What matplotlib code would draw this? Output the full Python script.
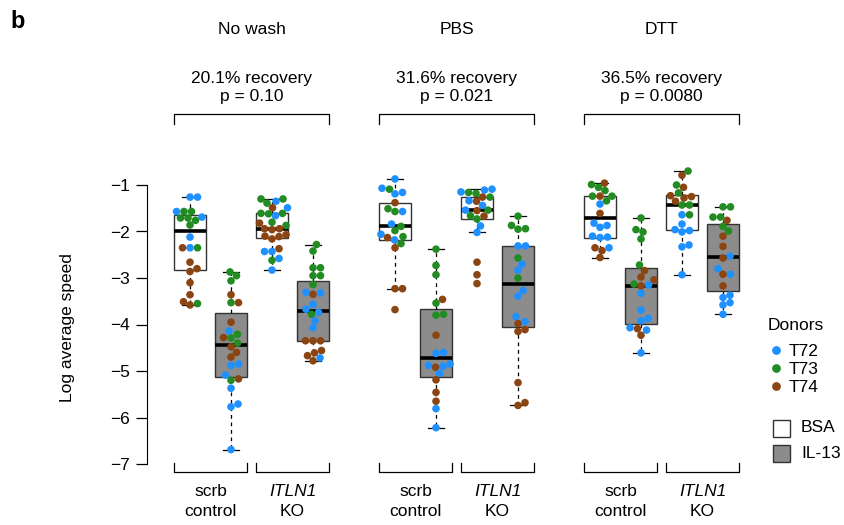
import matplotlib
matplotlib.use('Agg')
import matplotlib.pyplot as plt, numpy
from matplotlib.lines import Line2D
from matplotlib.patches import Rectangle
import matplotlib.transforms as mtrans

plt.rcParams['font.family'] = ['Liberation Sans', 'DejaVu Sans']

# donor codes: 2 = T72, 3 = T73, 4 = T74
nw_scrb_bsa = [-1.26, -1.26, -1.57, -1.57, -1.57, -1.69, -1.71, -1.76, -1.71, -1.86, -2.12,
               -2.35, -2.35, -2.35, -2.66, -2.80, -2.86, -3.10, -3.36, -3.51, -3.58, -3.55]
nw_scrb_bsa_d = [2, 2, 3, 3, 2, 2, 3, 3, 3, 3, 2, 3, 2, 4, 4, 4, 4, 4, 4, 4, 4, 3]
nw_scrb_il13 = [-2.87, -2.95, -3.06, -3.36, -3.53, -3.53, -3.95, -4.14, -4.21, -4.28, -4.29, -4.40,
                -4.48, -4.60, -4.70, -4.85, -4.88, -5.09, -5.17, -5.20, -5.37, -5.71, -5.77, -6.69]
nw_scrb_il13_d = [3, 3, 3, 4, 3, 4, 4, 2, 3, 4, 3, 3, 4, 4, 4, 2, 2, 2, 4, 3, 2, 2, 2, 2]
nw_ko_bsa = [-1.30, -1.30, -1.35, -1.39, -1.49, -1.49, -1.61, -1.61, -1.62, -1.66, -1.80, -1.82, -1.87,
             -1.94, -1.96, -1.94, -2.07, -2.10, -2.16, -2.11, -2.37, -2.43, -2.43, -2.58, -2.62, -2.83]
nw_ko_bsa_d = [3, 3, 2, 3, 4, 2, 3, 3, 3, 2, 3, 4, 3, 4, 4, 4, 4, 4, 4, 4, 4, 2, 2, 2, 3, 2]
nw_ko_il13 = [-2.28, -2.42, -2.78, -2.78, -2.95, -2.95, -3.14, -3.31, -3.35, -3.32, -3.57, -3.67,
              -3.74, -3.78, -3.92, -4.07, -4.35, -4.35, -4.35, -4.56, -4.61, -4.67, -4.72, -4.78]
nw_ko_il13_d = [3, 3, 3, 3, 3, 3, 3, 2, 4, 2, 2, 2, 2, 3, 2, 2, 4, 4, 4, 4, 4, 4, 2, 4]

pbs_scrb_bsa = [-0.87, -1.07, -1.09, -1.16, -1.19, -1.38, -1.51, -1.57, -1.57, -1.84, -1.89,
                -1.98, -2.06, -2.11, -2.13, -2.18, -2.26, -2.35, -3.23, -3.23, -3.68]
pbs_scrb_bsa_d = [2, 2, 3, 2, 2, 4, 3, 2, 3, 2, 3, 3, 2, 3, 4, 2, 3, 4, 4, 4, 4]
pbs_scrb_il13 = [-2.38, -2.73, -2.93, -3.46, -3.54, -3.80, -3.78, -4.23, -4.62, -4.60,
                 -4.85, -4.90, -4.92, -4.88, -5.05, -5.19, -5.46, -5.65, -5.81, -6.22]
pbs_scrb_il13_d = [3, 3, 3, 4, 3, 3, 3, 4, 2, 2, 2, 2, 4, 2, 2, 4, 4, 4, 2, 2]
pbs_ko_bsa = [-1.09, -1.11, -1.15, -1.18, -1.16, -1.26, -1.26, -1.35, -1.34, -1.44, -1.54,
              -1.55, -1.54, -1.66, -1.67, -1.73, -1.88, -2.02, -2.66, -2.93, -3.12]
pbs_ko_bsa_d = [2, 2, 2, 3, 3, 3, 4, 4, 2, 2, 2, 4, 3, 3, 4, 3, 2, 2, 4, 4, 4]
pbs_ko_il13 = [-1.67, -1.87, -1.95, -1.94, -2.31, -2.31, -2.57, -2.70, -2.83, -3.00,
               -3.27, -3.39, -3.83, -3.94, -3.98, -4.11, -4.15, -5.25, -5.68, -5.74]
pbs_ko_il13_d = [3, 3, 3, 3, 2, 2, 3, 2, 2, 3, 2, 2, 2, 2, 4, 4, 4, 4, 4, 4]

dtt_scrb_bsa = [-0.96, -0.99, -1.05, -1.12, -1.24, -1.24, -1.24, -1.34, -1.41, -1.61,
                -1.82, -1.91, -1.87, -2.10, -2.13, -2.12, -2.35, -2.35, -2.41, -2.56]
dtt_scrb_bsa_d = [4, 3, 3, 3, 3, 4, 3, 3, 2, 4, 2, 2, 2, 2, 2, 2, 4, 2, 4, 4]
dtt_scrb_il13 = [-1.71, -1.96, -2.01, -2.16, -2.72, -2.84, -2.98, -3.04, -3.13, -3.17,
                 -3.15, -3.33, -3.69, -3.87, -3.92, -4.07, -4.09, -4.12, -4.23, -4.61]
dtt_scrb_il13_d = [3, 3, 3, 3, 3, 4, 4, 4, 3, 4, 2, 2, 2, 2, 2, 2, 4, 2, 4, 2]
dtt_ko_bsa = [-0.70, -0.79, -1.00, -1.05, -1.17, -1.23, -1.28, -1.25, -1.35, -1.43,
              -1.43, -1.64, -1.64, -1.84, -1.96, -2.01, -1.98, -2.33, -2.29, -2.93]
dtt_ko_bsa_d = [3, 4, 3, 4, 3, 4, 4, 4, 4, 3, 3, 2, 3, 2, 2, 2, 2, 2, 2, 2]
dtt_ko_il13 = [-1.47, -1.47, -1.69, -1.69, -1.76, -1.89, -1.99, -2.10, -2.32, -2.53,
               -2.57, -2.80, -2.92, -2.92, -3.17, -3.37, -3.42, -3.53, -3.58, -3.78]
dtt_ko_il13_d = [3, 3, 3, 3, 4, 3, 3, 4, 4, 2, 4, 2, 2, 4, 4, 2, 2, 2, 2, 2]

# box statistics, in plotting order
box_q1 = [-2.83, -5.13, -2.14, -4.35, -2.18, -5.12, -1.73, -4.05, -2.13, -3.99, -1.96, -3.27]
box_med = [-1.99, -4.44, -1.94, -3.70, -1.89, -4.73, -1.54, -3.13, -1.72, -3.17, -1.43, -2.55]
box_q3 = [-1.64, -3.75, -1.60, -3.06, -1.38, -3.67, -1.26, -2.31, -1.24, -2.78, -1.21, -1.84]
box_lo = [-3.58, -6.69, -2.82, -4.78, -3.23, -6.22, -2.01, -5.74, -2.56, -4.61, -2.93, -3.78]
box_hi = [-1.26, -2.87, -1.30, -2.28, -0.87, -2.38, -1.09, -1.67, -0.96, -1.71, -0.70, -1.47]

washes = ['No wash', 'PBS', 'DTT']
recovery = ['20.1% recovery', '31.6% recovery', '36.5% recovery']
pvals = ['p = 0.10', 'p = 0.021', 'p = 0.0080']
donors = ['T72', 'T73', 'T74']
donor_cols = {2: '#1E90FF', 3: '#228B22', 4: '#8B4513'}
fill_cols = ['white', '#8C8C8C']

values = [nw_scrb_bsa, nw_scrb_il13, nw_ko_bsa, nw_ko_il13,
          pbs_scrb_bsa, pbs_scrb_il13, pbs_ko_bsa, pbs_ko_il13,
          dtt_scrb_bsa, dtt_scrb_il13, dtt_ko_bsa, dtt_ko_il13]
donor_ids = [nw_scrb_bsa_d, nw_scrb_il13_d, nw_ko_bsa_d, nw_ko_il13_d,
             pbs_scrb_bsa_d, pbs_scrb_il13_d, pbs_ko_bsa_d, pbs_ko_il13_d,
             dtt_scrb_bsa_d, dtt_scrb_il13_d, dtt_ko_bsa_d, dtt_ko_il13_d]

positions = [g * 5 + j for g in range(3) for j in range(4)]

W, H = 845, 525
fig = plt.figure(figsize=(W / 100, H / 100), dpi=100)
ax = fig.add_axes([146.7 / W, 45 / H, (760 - 146.7) / W, 320 / H])
fs = 12.5

stats = []
for i in range(12):
    stats.append(dict(med=box_med[i], q1=box_q1[i], q3=box_q3[i],
                      whislo=box_lo[i], whishi=box_hi[i], fliers=[]))
bp = ax.bxp(stats, positions=positions, widths=0.8, capwidths=0.4, patch_artist=True,
            showfliers=False, manage_ticks=False,
            boxprops=dict(edgecolor='#333333', linewidth=1.0),
            medianprops=dict(color='black', linewidth=2.6, solid_capstyle='butt'),
            whiskerprops=dict(color='black', linewidth=0.9, linestyle=(0, (3, 3))),
            capprops=dict(color='black', linewidth=0.9))
for i, b in enumerate(bp['boxes']):
    b.set_facecolor(fill_cols[i % 2])

ax.set_xlim((146.7 - 190) / 41, (760 - 190) / 41)
ax.set_ylim(-1 - (480 - 185) / 46.5, -1 + (185 - 160) / 46.5)
for s in ('top', 'right', 'bottom'):
    ax.spines[s].set_visible(False)
ax.spines['left'].set_bounds(-7, -1)
ax.set_xticks([])
ax.set_yticks(range(-7, 0))
ax.tick_params(axis='y', length=8, width=0.9, pad=4, labelsize=fs)


def swarm(vals, pos, diam=7.2):
    '''simple beeswarm placement in pixel space'''
    vals = numpy.asarray(vals, float)
    pts = ax.transData.transform(numpy.column_stack([numpy.full(len(vals), pos), vals]))
    x0 = pts[0, 0]
    ypx = pts[:, 1]
    xoff = numpy.zeros(len(vals))
    placed = []
    for i in numpy.argsort(vals):
        found = None
        for k in range(0, 400):
            for s in ([0.0] if k == 0 else [k * 0.5, -k * 0.5]):
                if all((s - xo) ** 2 + (ypx[i] - yo) ** 2 >= diam ** 2 for xo, yo in placed):
                    found = s
                    break
            if found is not None:
                break
        placed.append((found, ypx[i]))
        xoff[i] = found
    back = ax.transData.inverted().transform(numpy.column_stack([x0 + xoff, ypx]))
    return back[:, 0]


for i in range(12):
    xs = swarm(values[i], positions[i])
    cols = [donor_cols[d] for d in donor_ids[i]]
    ax.scatter(xs, values[i], s=30, c=cols, edgecolors='none', zorder=5)

# group titles and brackets
fy = lambda py: 1 - py / H
blend = mtrans.blended_transform_factory(ax.transData, fig.transFigure)
for g in range(3):
    p = positions[g * 4:(g + 1) * 4]
    xc = (p[0] + p[3]) / 2
    ax.text(xc, fy(30), washes[g], transform=blend, ha='center', va='center', fontsize=fs)
    ax.text(xc, fy(78), recovery[g], transform=blend, ha='center', va='center', fontsize=fs)
    ax.text(xc, fy(97), pvals[g], transform=blend, ha='center', va='center', fontsize=fs)
    l, r = p[0] - 0.4, p[3] + 0.4
    ax.add_line(Line2D([l, l, r, r], [fy(124), fy(114), fy(114), fy(124)], transform=blend,
                       color='black', lw=0.9, clip_on=False))
    for a, b in ((p[0], p[1]), (p[2], p[3])):
        l, r = a - 0.4, b + 0.4
        ax.add_line(Line2D([l, l, r, r], [fy(463), fy(472), fy(472), fy(463)], transform=blend,
                           color='black', lw=0.9, clip_on=False))
    ax.text((p[0] + p[1]) / 2, fy(492), 'scrb', transform=blend, ha='center', va='center', fontsize=fs)
    ax.text((p[0] + p[1]) / 2, fy(511), 'control', transform=blend, ha='center', va='center', fontsize=fs)
    ax.text((p[2] + p[3]) / 2, fy(492), 'ITLN1', transform=blend, ha='center', va='center',
            fontsize=fs, style='italic')
    ax.text((p[2] + p[3]) / 2, fy(511), 'KO', transform=blend, ha='center', va='center', fontsize=fs)

fig.text(68 / W, fy(328), 'Log average speed', rotation=90, ha='center', va='center', fontsize=fs)
fig.text(10 / W, fy(21), 'b', ha='left', va='center', fontsize=17, fontweight='bold')

# legend
fig.text(768 / W, fy(326), 'Donors', ha='left', va='center', fontsize=fs)
for k, d in enumerate((2, 3, 4)):
    fig.add_artist(Line2D([776 / W], [fy(350 + 18 * k)], marker='o', markersize=6.3,
                          color=donor_cols[d], markeredgewidth=0, linestyle='none'))
    fig.text(789 / W, fy(351 + 18 * k), donors[k], ha='left', va='center', fontsize=fs)
for k, (lab, c) in enumerate(zip(['BSA', 'IL-13'], fill_cols)):
    yc = 428 + 25 * k
    fig.add_artist(Rectangle((773 / W, fy(yc + 8.5)), 17 / W, 17 / H, facecolor=c,
                             edgecolor='#333333', lw=1.0, transform=fig.transFigure))
    fig.text(801 / W, fy(yc), lab, ha='left', va='center', fontsize=fs)

fig.savefig('out.png', dpi=100)
plt.close()
